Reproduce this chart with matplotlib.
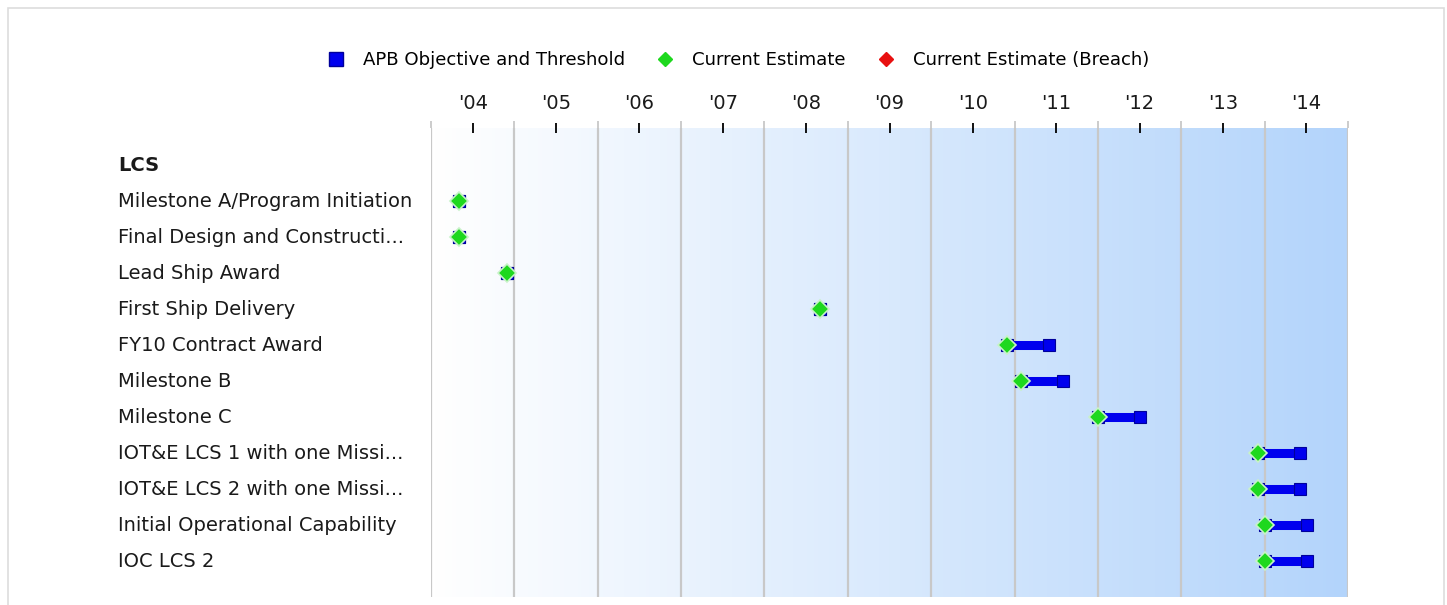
import numpy as np
import matplotlib.pyplot as plt
import matplotlib.patches as mpatches
from matplotlib.lines import Line2D
from matplotlib.transforms import blended_transform_factory
from matplotlib.colors import LinearSegmentedColormap

plt.rcParams['font.family'] = ['DejaVu Sans']

# Data (fractional years)
program = 'LCS'
milestones = ['Milestone A/Program Initiation', 'Final Design and Constructi...',
              'Lead Ship Award', 'First Ship Delivery', 'FY10 Contract Award',
              'Milestone B', 'Milestone C', 'IOT&E LCS 1 with one Missi...',
              'IOT&E LCS 2 with one Missi...', 'Initial Operational Capability',
              'IOC LCS 2']
objective = [2004.33, 2004.33, 2004.91, 2008.67, 2010.91, 2011.08, 2012.00,
             2013.92, 2013.92, 2014.01, 2014.01]
threshold = [2004.33, 2004.33, 2004.91, 2008.67, 2011.41, 2011.58, 2012.50,
             2014.42, 2014.42, 2014.51, 2014.51]
current_est = [2004.33, 2004.33, 2004.91, 2008.67, 2010.91, 2011.08, 2012.00,
               2013.92, 2013.92, 2014.01, 2014.01]
years = list(range(2004, 2015))
year_labels = ["'04", "'05", "'06", "'07", "'08", "'09", "'10", "'11", "'12", "'13", "'14"]

W, H = 1447, 605
fig = plt.figure(figsize=(W / 100, H / 100), dpi=100)
ax = fig.add_axes([431 / W, 1 - 597 / H, (1348 - 431) / W, (597 - 128) / H])

# background gradient, white to light blue
cmap = LinearSegmentedColormap.from_list('bg', ['#ffffff', '#b3d4fb'])
grad = np.linspace(0, 1, 256).reshape(1, -1)
ax.imshow(grad, cmap=cmap, aspect='auto', extent=(2004, 2015, 12, -1.03), zorder=0)

ax.set_xlim(2004, 2015)
ax.set_ylim(12, -1.03)

# year gridlines
for x in range(2004, 2016):
    ax.axvline(x, color='#c8c8c8', lw=1.6, zorder=1)

rows = np.arange(1, len(milestones) + 1)
blue = '#0000ee'
for y, o, t, c in zip(rows, objective, threshold, current_est):
    ax.plot([o, t], [y, y], color=blue, lw=6.5, solid_capstyle='butt', zorder=3)
    ax.plot([o], [y], ls='none', marker='s', ms=8, color=blue,
            mec='#00009a', mew=0.8, zorder=4)
    ax.plot([t], [y], ls='none', marker='s', ms=9, color=blue,
            mec='#00009a', mew=0.8, zorder=4)
    ax.plot([c], [y], ls='none', marker='D', ms=9, color='#1ed81e',
            mec='#c8f2c8', mew=1.2, zorder=5)

# x axis on top
ax.xaxis.tick_top()
ax.set_xticks([y + 0.5 for y in years])
ax.set_xticklabels(year_labels, fontsize=14, color='#1a1a1a')
ax.set_xticks(range(2004, 2016), minor=True)
ax.tick_params(axis='x', which='major', direction='inout', length=7, width=1.3,
               color='black', pad=7)
ax.tick_params(axis='x', which='minor', direction='out', length=5, width=1.3,
               color='#c8c8c8')
ax.set_yticks([])
for s in ax.spines.values():
    s.set_visible(False)

# row labels, left aligned
tr = blended_transform_factory(fig.transFigure, ax.transData)
ax.text(118 / W, 0, program, transform=tr, ha='left', va='center',
        fontsize=14, fontweight='bold', color='#1a1a1a', clip_on=False)
for y, name in zip(rows, milestones):
    ax.text(118 / W, y, name, transform=tr, ha='left', va='center',
            fontsize=14, color='#1a1a1a', clip_on=False)

# legend
handles = [
    Line2D([], [], ls='none', marker='s', ms=10, color=blue, mec='#00009a'),
    Line2D([], [], ls='none', marker='D', ms=7, color='#1ed81e', mec='#1ed81e'),
    Line2D([], [], ls='none', marker='D', ms=7, color='#e81010', mec='#e81010'),
]
fig.legend(handles, ['APB Objective and Threshold', 'Current Estimate',
                     'Current Estimate (Breach)'],
           loc='center', bbox_to_anchor=(737 / W, 1 - 60 / H), ncol=3,
           frameon=False, fontsize=13.1, handletextpad=0.9, columnspacing=1.6,
           handlelength=1.2)

# outer frame
fig.patches.append(mpatches.Rectangle((8 / W, -0.05), (1444 - 8) / W, 1.05 - 8 / H,
                                      transform=fig.transFigure, fill=False,
                                      edgecolor='#dddddd', lw=1.2))

fig.savefig('out.png', dpi=100)
